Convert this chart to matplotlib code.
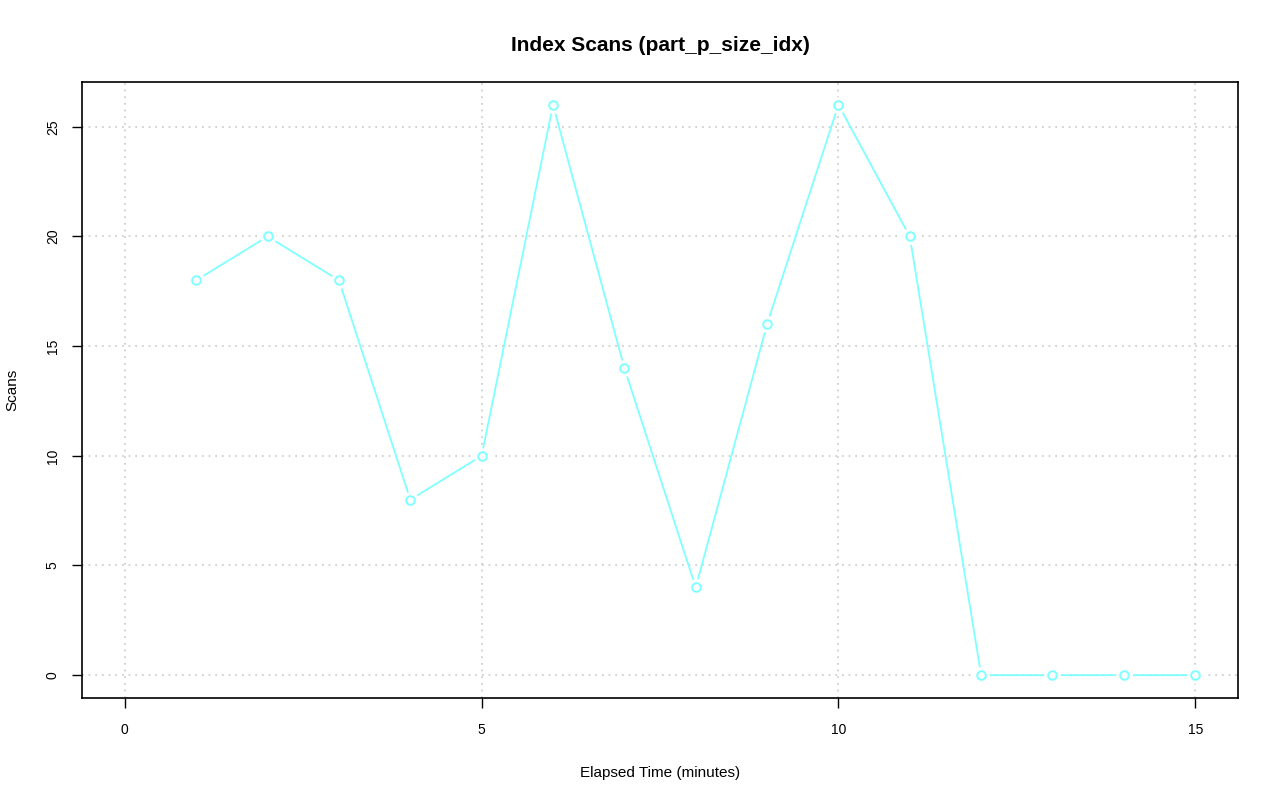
import matplotlib
matplotlib.use("Agg")
import matplotlib.pyplot as plt

x = list(range(1, 16))
scans = [18, 20, 18, 8, 10, 26, 14, 4, 16, 26, 20, 0, 0, 0, 0]
xticks = [0, 5, 10, 15]
yticks = [0, 5, 10, 15, 20, 25]
color = "#7fffff"

plt.rcParams['font.family'] = ['Liberation Sans', 'DejaVu Sans']
fig = plt.figure(figsize=(12.8, 8.01), dpi=100)
ax = fig.add_axes([0.0641, 0.1286, 0.9031, 0.769])
ax.set_xlim(-0.6, 15.6)
ax.set_ylim(-1.04, 27.04)

for t in xticks:
    ax.axvline(t, color="#c8c8c8", linestyle=(0, (1, 3)), linewidth=1.2, zorder=1)
for t in yticks:
    ax.axhline(t, color="#c8c8c8", linestyle=(0, (1, 3)), linewidth=1.2, zorder=1)

ax.plot(x, scans, color=color, linewidth=1.3, zorder=2)
ax.plot(x, scans, linestyle="none", marker="o", markersize=11, markerfacecolor="white",
        markeredgecolor="white", zorder=3)
ax.plot(x, scans, linestyle="none", marker="o", markersize=6.2, markerfacecolor="none",
        markeredgecolor=color, markeredgewidth=1.4, zorder=4)

ax.set_xticks(xticks)
ax.set_yticks(yticks)
ax.set_yticklabels([str(t) for t in yticks], rotation=90, va="center")
ax.tick_params(axis="x", labelsize=10, length=7, width=1, color="black", pad=11)
ax.tick_params(axis="y", labelsize=10, length=7, width=1, color="black", pad=9)
for s in ax.spines.values():
    s.set_linewidth(1.2)

ax.set_title("Index Scans (part_p_size_idx)", fontsize=15, fontweight="bold", pad=22)
ax.set_xlabel("Elapsed Time (minutes)", fontsize=11, labelpad=21)
ax.set_ylabel("Scans", fontsize=11, labelpad=19)

fig.savefig("out.png", dpi=100)
